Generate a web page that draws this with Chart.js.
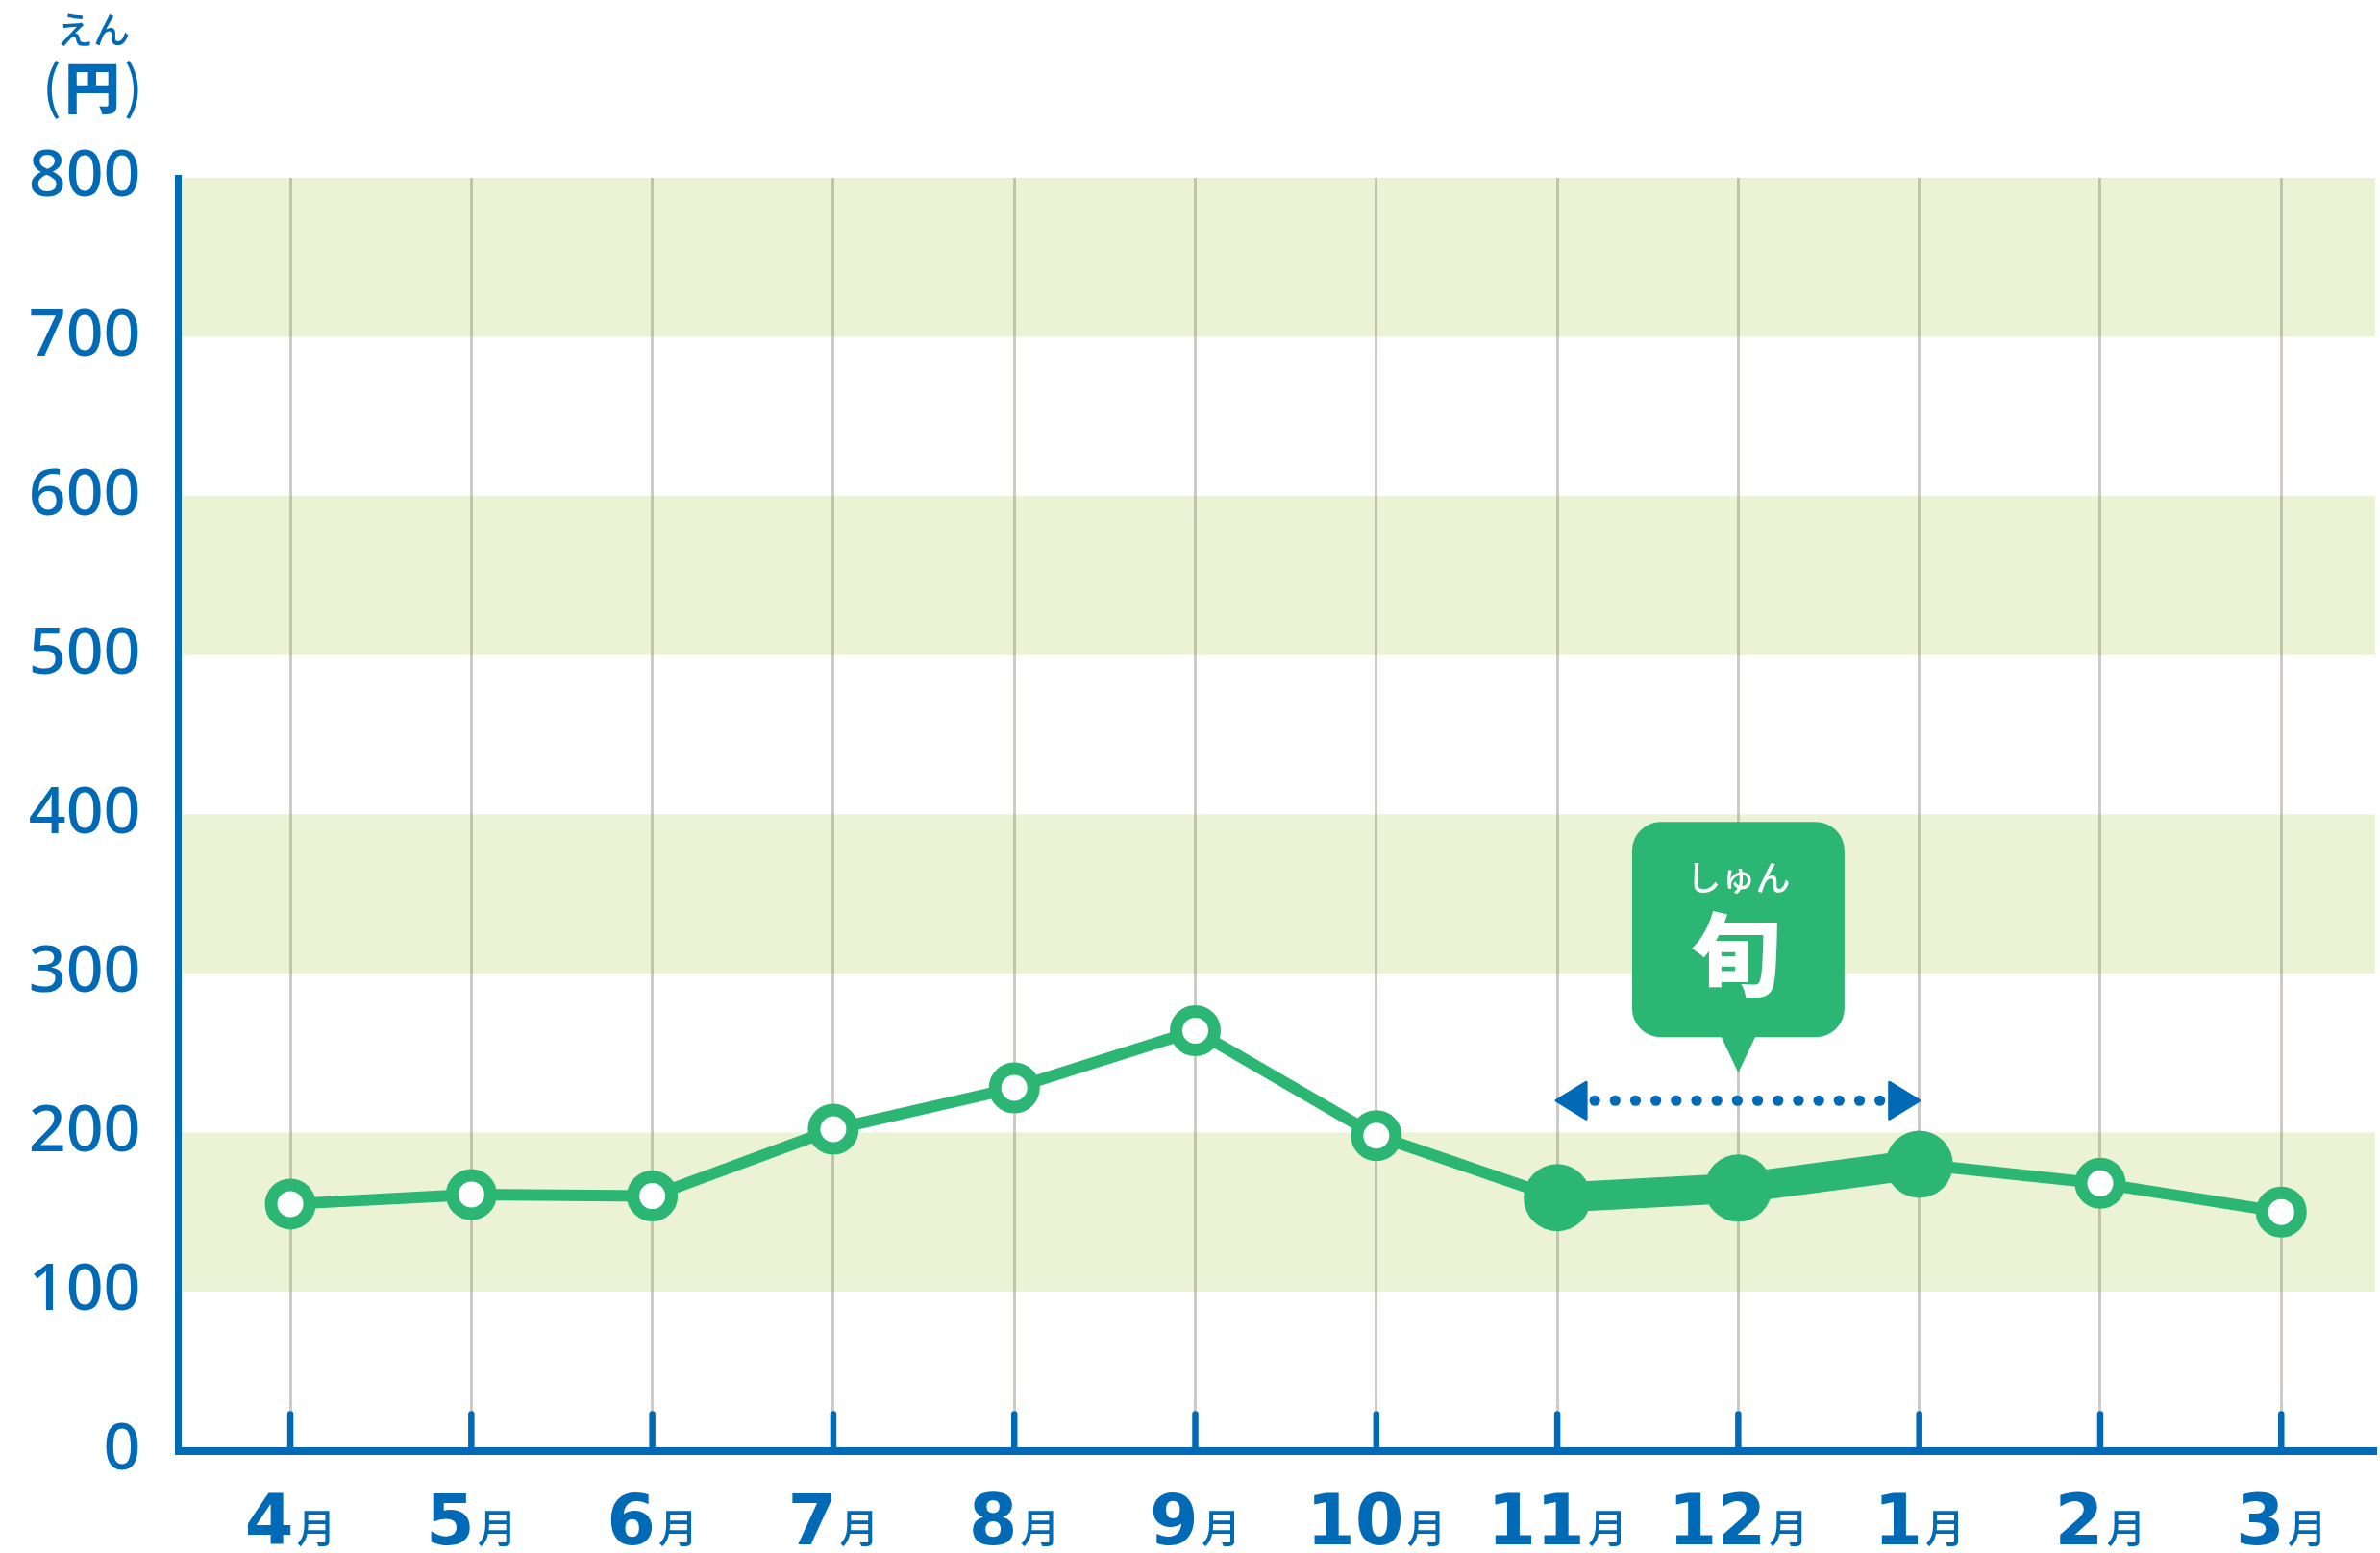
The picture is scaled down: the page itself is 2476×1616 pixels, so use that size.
<!DOCTYPE html>
<html>
<head>
<meta charset="utf-8">
<script src="https://cdn.jsdelivr.net/npm/chart.js@4"></script>
<style>
  html, body { margin: 0; padding: 0; background: #ffffff; overflow: hidden; }
  #wrap { width: 2476px; height: 1616px; }
  canvas { display: block; }
</style>
</head>
<body>
<div id="wrap"><canvas id="c" width="2476" height="1616"></canvas></div>
<script>
// ---- data ----
const months = ['4月','5月','6月','7月','8月','9月','10月','11月','12月','1月','2月','3月'];
const prices = [155, 161, 160, 202, 228, 264, 198, 159, 165, 180, 168, 150];
const seasonMonths = ['11月','12月','1月'];
const yTicks = [0, 100, 200, 300, 400, 500, 600, 700, 800];
const unitRuby = 'えん';
const unitLabel = '円';
const seasonRuby = 'しゅん';
const seasonLabel = '旬';

// ---- styles ----
const GREEN = '#2CB673';
const BLUE = '#006AB6';
const BAND = '#ECF3D5';
const GRID = 'rgba(120,112,100,0.36)';
const arrowValue = 220;

const seasonIdx = seasonMonths.map(m => months.indexOf(m));
const isSeason = i => seasonIdx.includes(i);

const points = months.map((m, i) => ({ x: i, y: prices[i] }));

function roundRectPath(ctx, x, y, w, h, r) {
  ctx.beginPath();
  ctx.moveTo(x + r, y);
  ctx.lineTo(x + w - r, y);
  ctx.arcTo(x + w, y, x + w, y + r, r);
  ctx.lineTo(x + w, y + h - r);
  ctx.arcTo(x + w, y + h, x + w - r, y + h, r);
  ctx.lineTo(x + r, y + h);
  ctx.arcTo(x, y + h, x, y + h - r, r);
  ctx.lineTo(x, y + r);
  ctx.arcTo(x, y, x + r, y, r);
  ctx.closePath();
}

const decorPlugin = {
  id: 'decor',
  beforeDraw(chart) {
    const { ctx, chartArea: a, scales: { y } } = chart;
    ctx.save();
    ctx.fillStyle = BAND;
    for (let i = 1; i < yTicks.length; i += 2) {
      const t = y.getPixelForValue(yTicks[i + 1]);
      const b = y.getPixelForValue(yTicks[i]);
      ctx.fillRect(a.left, t, a.right - a.left, b - t);
    }
    ctx.restore();
  },
  beforeDatasetsDraw(chart) {
    const { ctx, chartArea: a, scales: { x } } = chart;
    ctx.save();
    ctx.strokeStyle = BLUE;
    ctx.lineWidth = 6.5;
    ctx.lineCap = 'round';
    months.forEach((m, i) => {
      const px = x.getPixelForValue(i);
      ctx.beginPath();
      ctx.moveTo(px, a.bottom - 38);
      ctx.lineTo(px, a.bottom);
      ctx.stroke();
    });
    ctx.restore();
  },
  afterDatasetsDraw(chart) {
    const { ctx, scales: { x, y } } = chart;
    const xL = x.getPixelForValue(seasonIdx[0]);
    const xR = x.getPixelForValue(seasonIdx[seasonIdx.length - 1]);
    const xM = x.getPixelForValue(seasonIdx[1]);
    const ay = y.getPixelForValue(arrowValue);
    ctx.save();
    // arrow heads
    ctx.fillStyle = BLUE;
    ctx.strokeStyle = BLUE;
    ctx.lineJoin = 'round';
    ctx.lineWidth = 3;
    ctx.beginPath();
    ctx.moveTo(xL - 1, ay);
    ctx.lineTo(xL + 30, ay - 19);
    ctx.lineTo(xL + 30, ay + 19);
    ctx.closePath();
    ctx.fill(); ctx.stroke();
    ctx.beginPath();
    ctx.moveTo(xR, ay);
    ctx.lineTo(xR - 31, ay - 19);
    ctx.lineTo(xR - 31, ay + 19);
    ctx.closePath();
    ctx.fill(); ctx.stroke();
    // dots
    const n = 15;
    const d0 = xL + 39, d1 = xR - 41;
    for (let k = 0; k < n; k++) {
      const dx = d0 + (d1 - d0) * k / (n - 1);
      ctx.beginPath();
      ctx.arc(dx, ay, 5.6, 0, Math.PI * 2);
      ctx.fill();
    }
    // callout
    const top = ay - 290, bot = ay - 66, tip = ay - 29;
    ctx.fillStyle = GREEN;
    roundRectPath(ctx, xM - 110.5, top, 221, bot - top, 30);
    ctx.fill();
    ctx.beginPath();
    ctx.moveTo(xM - 18, bot - 1);
    ctx.lineTo(xM + 18, bot - 1);
    ctx.lineTo(xM, tip);
    ctx.closePath();
    ctx.fill();
    ctx.fillStyle = '#ffffff';
    ctx.textAlign = 'center';
    ctx.textBaseline = 'middle';
    ctx.font = '500 36px "Noto Sans CJK JP"';
    ctx.fillText(seasonRuby, xM, ay - 232);
    ctx.font = '900 94px "Noto Sans CJK JP"';
    ctx.fillText(seasonLabel, xM - 3, ay - 152);
    ctx.restore();
  },
  afterDraw(chart) {
    const { ctx, scales: { x } } = chart;
    ctx.save();
    ctx.fillStyle = BLUE;
    ctx.textBaseline = 'alphabetic';
    ctx.textAlign = 'left';
    const numFont = 'bold 73px "DejaVu Sans"';
    const tsuFont = '500 41px "Noto Sans CJK JP"';
    months.forEach((m, i) => {
      const num = m.replace('月', '');
      const px = x.getPixelForValue(i);
      ctx.font = numFont;
      const wn = ctx.measureText(num).width;
      ctx.font = tsuFont;
      const wt = ctx.measureText('月').width;
      const gap = 3;
      const start = px - (wn + gap + wt) / 2;
      ctx.font = numFont;
      ctx.fillText(num, start, 1607);
      ctx.font = tsuFont;
      ctx.fillText('月', start + wn + gap, 1605);
    });
    // unit label
    ctx.textAlign = 'center';
    ctx.textBaseline = 'middle';
    ctx.font = '500 38px "Noto Sans CJK JP"';
    ctx.fillText(unitRuby, 97, 31);
    ctx.font = '400 60px "Noto Sans CJK JP"';
    ctx.fillText('(', 54, 89);
    ctx.fillText(')', 139, 89);
    ctx.font = '900 58px "Noto Sans CJK JP"';
    ctx.fillText(unitLabel, 96, 91);
    ctx.restore();
  }
};

const AXIS_LEFT = 185.5, AXIS_BOTTOM = 1509.5;

new Chart(document.getElementById('c'), {
  type: 'line',
  data: {
    datasets: [{
      data: points,
      borderColor: GREEN,
      borderWidth: 12,
      borderJoinStyle: 'round',
      borderCapStyle: 'round',
      tension: 0,
      pointStyle: 'circle',
      pointRadius: ctx => isSeason(ctx.dataIndex) ? 35 : 20,
      pointHoverRadius: ctx => isSeason(ctx.dataIndex) ? 35 : 20,
      pointBorderWidth: ctx => isSeason(ctx.dataIndex) ? 0 : 13,
      pointBorderColor: GREEN,
      pointBackgroundColor: ctx => isSeason(ctx.dataIndex) ? GREEN : '#ffffff',
      segment: {
        borderWidth: ctx => (isSeason(ctx.p0DataIndex) && isSeason(ctx.p1DataIndex)) ? 31 : 12
      }
    }]
  },
  options: {
    responsive: false,
    animation: false,
    devicePixelRatio: 1,
    events: [],
    layout: { autoPadding: false, padding: { top: 185, right: 5, left: 0, bottom: 0 } },
    plugins: { legend: { display: false }, tooltip: { enabled: false } },
    scales: {
      x: {
        type: 'linear',
        min: -0.619,
        max: 11.519,
        afterFit: s => { s.height = 1616 - AXIS_BOTTOM; },
        ticks: { display: false, stepSize: 1, includeBounds: false, maxTicksLimit: 100 },
        grid: { display: true, color: GRID, lineWidth: 3, drawTicks: false },
        border: { display: true, color: BLUE, width: 8 }
      },
      y: {
        min: 0,
        max: 800,
        afterFit: s => { s.width = AXIS_LEFT; },
        afterBuildTicks: s => { s.ticks = yTicks.map(v => ({ value: v })); },
        ticks: {
          color: BLUE,
          padding: 39,
          font: { family: '"Noto Sans"', size: 68, weight: '500' }
        },
        grid: { display: false, drawTicks: false },
        border: { display: true, color: BLUE, width: 7 }
      }
    }
  },
  plugins: [decorPlugin]
});
</script>
</body>
</html>
